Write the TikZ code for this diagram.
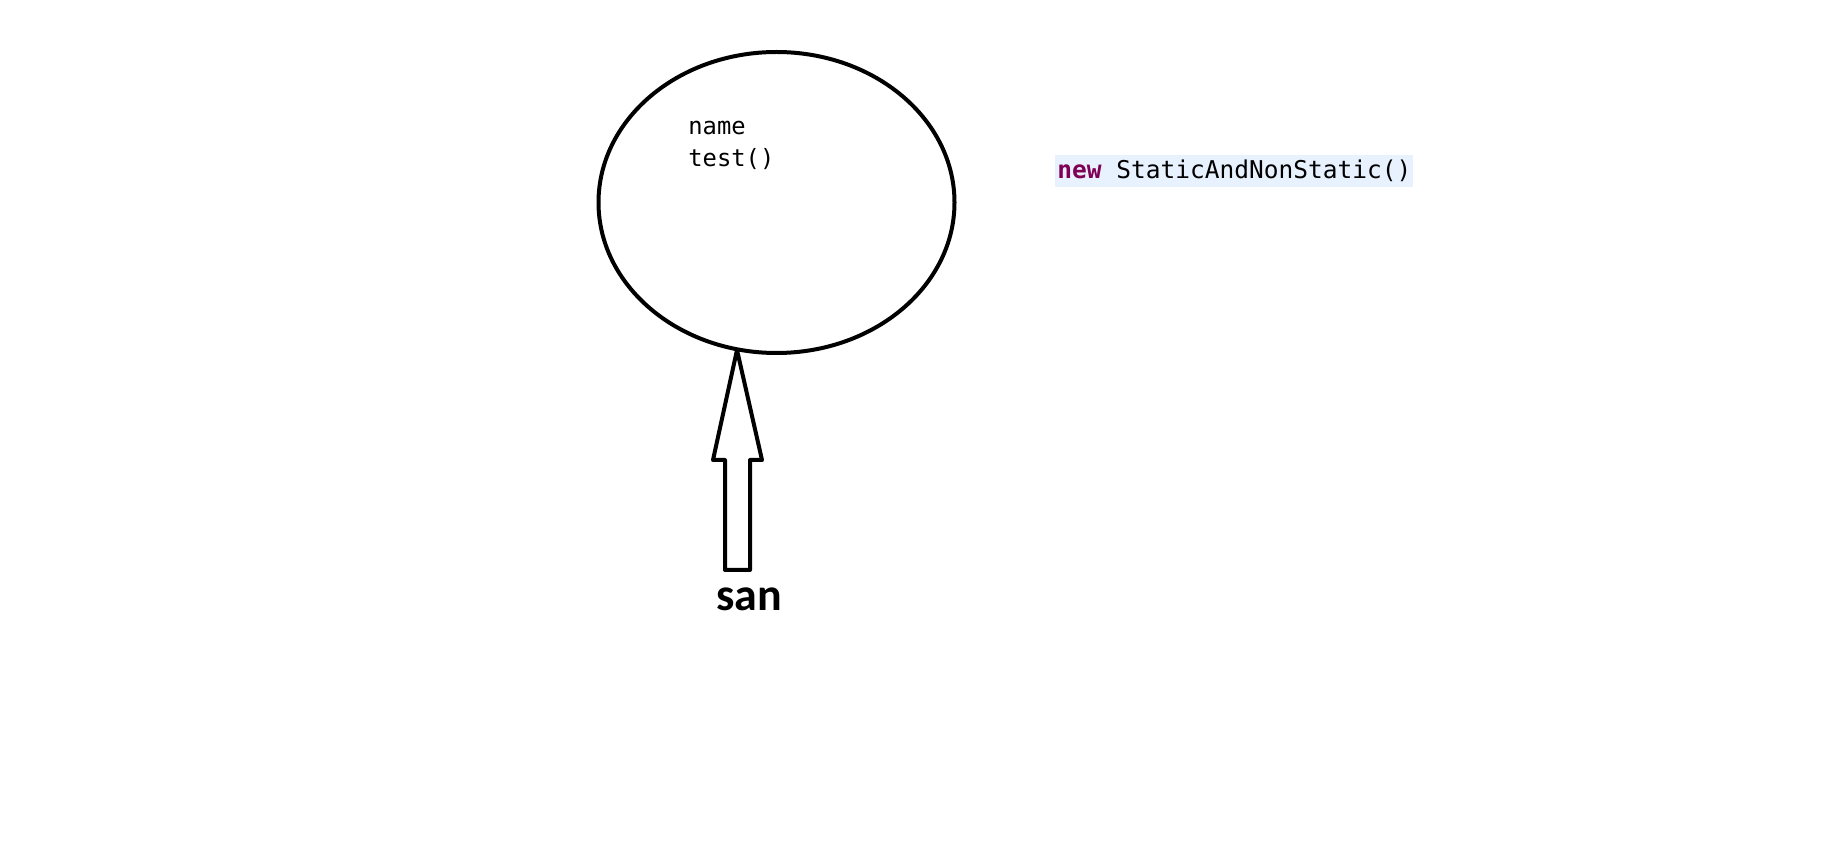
\documentclass[tikz,border=0pt]{standalone}
\usepackage{fontspec}
\usetikzlibrary{shapes.geometric}
\newfontfamily\codefont{DejaVu Sans Mono}
\newfontfamily\labelfont{Carlito}
\definecolor{keyword}{HTML}{7F0055}
\definecolor{curline}{HTML}{E8F2FE}

\begin{document}
\begin{tikzpicture}[x=0.5pt,y=-0.5pt]
      \tikzstyle{every node}+=[inner sep=0pt]
      \tikzstyle{code}=[font=\codefont\fontsize{11.9pt}{14pt}\selectfont, anchor=base west]
      \useasboundingbox (0,0) rectangle (1844,865);
      \node [draw=black, line width=2pt, ellipse, minimum width=178pt, minimum height=150.5pt] (obj) at (776.5,202.5) {};
      \node [code] (name) at (688,135) {name};
      \node [code] (test) at (688,167) {test()};
      \node [code, font=\codefont\fontsize{12.25pt}{14pt}\selectfont, fill=curline, inner xsep=1pt, inner ysep=1pt, text height=11pt, text depth=3pt] (new) at (1055,179) {\textcolor{keyword}{\textbf{new}} StaticAndNonStatic()};
      \coordinate (tip) at (737,350);
      \draw [black, line width=2pt, line join=round] (tip) -- (762,460) -- (750,460) -- (750,570) -- (725,570) -- (725,460) -- (713,460) -- cycle;
      \node [font=\labelfont\bfseries\fontsize{23pt}{26pt}\selectfont, anchor=base] (san) at (749.5,611) {san};
\end{tikzpicture}
\end{document}
